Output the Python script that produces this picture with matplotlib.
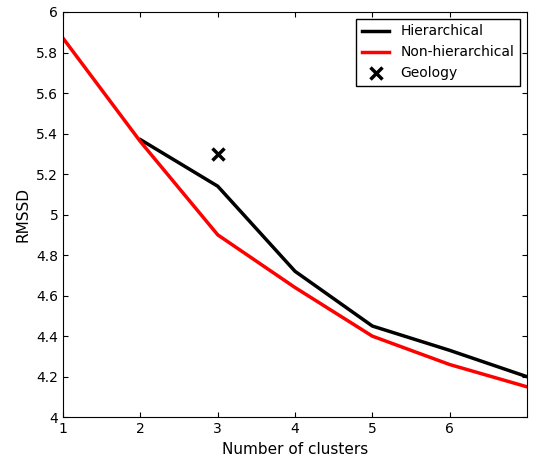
import matplotlib.pyplot as plt

k_hier = [2, 3, 4, 5, 6, 7]
rmssd_hier = [5.37, 5.14, 4.72, 4.45, 4.33, 4.20]
k_nonhier = [1, 2, 3, 4, 5, 6, 7]
rmssd_nonhier = [5.87, 5.36, 4.90, 4.64, 4.40, 4.26, 4.15]
geo_k = [3]
geo_rmssd = [5.30]

fig = plt.figure(figsize=(5.35, 4.61), dpi=100)
ax = fig.add_axes([0.118, 0.095, 0.867, 0.879])
ax.plot(k_hier, rmssd_hier, color='black', lw=2.5, label='Hierarchical')
ax.plot(k_nonhier, rmssd_nonhier, color='red', lw=2.5, label='Non-hierarchical')
ax.plot(geo_k, geo_rmssd, 'x', color='black', ms=9, mew=2.5, ls='none', label='Geology')
ax.set_xlim(1, 7)
ax.set_ylim(4, 6)
ax.set_xticks([1, 2, 3, 4, 5, 6])
ax.set_yticks([4 + 0.2 * i for i in range(11)])
ax.set_yticklabels(['4', '4.2', '4.4', '4.6', '4.8', '5', '5.2', '5.4', '5.6', '5.8', '6'])
ax.tick_params(direction='in', labelsize=10, top=True, right=True)
ax.set_xlabel('Number of clusters', fontsize=11)
ax.set_ylabel('RMSSD', fontsize=11)
ax.legend(loc='upper right', fontsize=10, fancybox=False, edgecolor='black', framealpha=1)
fig.savefig('out.png', dpi=100)
